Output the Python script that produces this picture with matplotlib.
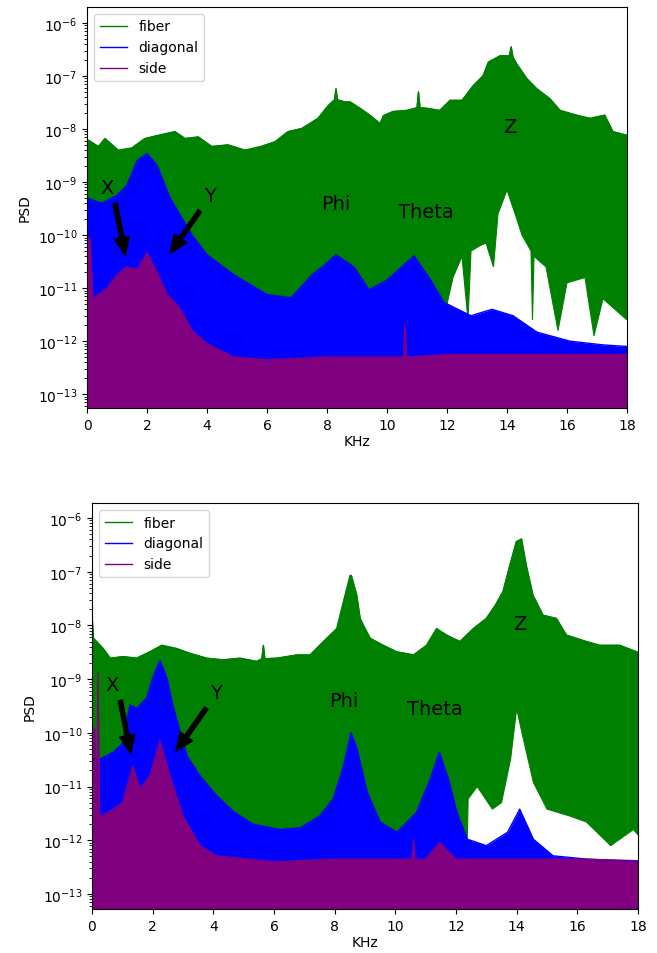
import numpy as np
import matplotlib
matplotlib.use('Agg')
import matplotlib.pyplot as plt

# envelopes of the PSD traces as log10(PSD) vs KHz
# ---- top panel ----
top_fiber_f = [0, 0.1, 0.38, 0.6, 1.04, 1.49, 1.93, 2.38, 2.93, 3.27, 3.71, 4.16, 4.7, 5.27,
               5.8, 6.27, 6.7, 7.16, 7.7, 8.04, 8.25, 8.3, 8.35, 8.6, 8.77, 9.1, 9.43, 9.77,
               9.88, 10.2, 10.66, 11.0, 11.05, 11.1, 11.32, 11.76, 12.1, 12.5, 12.88, 13.2,
               13.38, 13.77, 14.08, 14.14, 14.2, 14.32, 14.66, 14.99, 15.43, 15.77, 16.32,
               16.77, 17.26, 17.53, 18]
top_fiber_hi = [-8.2, -8.23, -8.33, -8.18, -8.4, -8.36, -8.18, -8.12, -8.05, -8.18, -8.15,
                -8.33, -8.3, -8.4, -8.33, -8.24, -8.05, -7.99, -7.8, -7.56, -7.45, -7.24,
                -7.45, -7.49, -7.49, -7.61, -7.74, -7.9, -7.75, -7.67, -7.65, -7.6, -7.3,
                -7.6, -7.61, -7.65, -7.46, -7.46, -7.18, -7.0, -6.74, -6.62, -6.62, -6.45,
                -6.65, -6.77, -7.05, -7.24, -7.43, -7.65, -7.74, -7.8, -7.74, -8.05, -8.12]
top_fiber_lo_f = [0, 11.8, 12.0, 12.2, 12.5, 12.7, 12.8, 13.1, 13.3, 13.55, 13.7, 14.0, 14.3,
                  14.5, 14.8, 14.85, 14.9, 15.3, 15.7, 16.0, 16.6, 16.9, 17.2, 17.8, 18]
top_fiber_lo = [-14, -14, -11.3, -10.8, -10.4, -11.6, -10.3, -10.2, -10.15, -10.6, -9.6,
                -9.15, -9.65, -10.0, -10.3, -11.6, -10.4, -10.6, -11.8, -10.9, -10.8, -11.9,
                -11.2, -11.5, -11.6]
top_diag_f = [0, 0.5, 1.0, 1.33, 1.67, 2.0, 2.33, 2.77, 3.5, 4.0, 4.9, 6.0, 6.8, 7.5, 7.8,
              8.3, 8.9, 9.4, 10.0, 10.9, 11.4, 11.9, 12.8, 13.5, 14.2, 15.0, 16.1, 17.2, 18]
top_diag_hi = [-9.3, -9.4, -9.25, -9.06, -8.6, -8.46, -8.68, -9.3, -10.0, -10.37, -10.75,
               -11.12, -11.18, -10.75, -10.62, -10.37, -10.6, -11.03, -10.85, -10.39, -10.8,
               -11.27, -11.52, -11.4, -11.52, -11.83, -12.0, -12.07, -12.1]
top_side_f = [0, 0.1, 0.2, 0.67, 1.0, 1.33, 1.67, 2.0, 2.33, 2.67, 3.1, 3.5, 4.0, 4.9, 6, 8,
              10, 10.55, 10.6, 10.65, 12, 14, 16, 18]
top_side_hi = [-10.05, -10.05, -11.2, -11.0, -10.75, -10.6, -10.65, -10.33, -10.7, -11.12,
               -11.38, -11.8, -12.05, -12.3, -12.35, -12.3, -12.3, -12.3, -11.7, -12.3,
               -12.25, -12.25, -12.25, -12.25]

# ---- bottom panel ----
bot_fiber_f = [0, 0.05, 0.37, 0.6, 1.03, 1.47, 1.91, 2.3, 2.79, 3.23, 3.78, 4.33, 4.88,
               5.43, 5.6, 5.65, 5.7, 6.09, 6.75, 7.19, 7.63, 8.07, 8.29, 8.51, 8.55, 8.73,
               8.84, 8.95, 9.17, 9.6, 10.04, 10.6, 11.03, 11.36, 11.69, 12.13, 12.57, 13.0,
               13.29, 13.55, 13.77, 13.99, 14.16, 14.32, 14.54, 14.87, 15.31, 15.64, 16.3,
               16.74, 17.4, 17.95, 18]
bot_fiber_hi = [-7.8, -8.24, -8.43, -8.61, -8.58, -8.61, -8.49, -8.37, -8.43, -8.52, -8.61,
                -8.64, -8.61, -8.67, -8.62, -8.37, -8.62, -8.61, -8.55, -8.55, -8.3, -8.06,
                -7.56, -7.07, -7.07, -7.44, -7.87, -8.0, -8.24, -8.37, -8.49, -8.55, -8.37,
                -8.06, -8.18, -8.3, -8.06, -7.87, -7.63, -7.37, -6.89, -6.44, -6.39, -6.89,
                -7.44, -7.81, -7.87, -8.18, -8.3, -8.37, -8.37, -8.49, -8.5]
bot_fiber_lo_f = [0, 12.3, 12.4, 12.7, 13.2, 13.5, 13.8, 14.0, 14.2, 14.55, 15.0, 15.76,
                  16.3, 17.1, 17.85, 18]
bot_fiber_lo = [-14, -14, -11.23, -11.0, -11.42, -11.3, -10.49, -9.55, -10.06, -10.92,
                -11.42, -11.55, -11.66, -12.1, -11.8, -11.9]
bot_diag_f = [0, 0.26, 0.7, 1.0, 1.25, 1.48, 1.8, 2.0, 2.24, 2.47, 2.67, 3.13, 3.56, 4.1,
              4.65, 5.3, 6.2, 6.86, 7.5, 7.95, 8.29, 8.54, 8.74, 9.07, 9.5, 10.05, 10.7,
              11.15, 11.45, 11.75, 12.03, 12.37, 13.0, 13.7, 14.1, 14.55, 15.2, 16.3,
              17.85, 18]
bot_diag_hi = [-10.5, -10.49, -10.36, -10.2, -9.48, -9.54, -9.35, -8.98, -8.65, -8.98, -9.5,
               -10.43, -10.8, -11.16, -11.46, -11.7, -11.8, -11.77, -11.55, -11.23, -10.62,
               -10.0, -10.3, -11.1, -11.66, -11.85, -11.48, -10.86, -10.36, -10.86, -11.48,
               -11.98, -12.1, -11.85, -11.42, -11.98, -12.29, -12.35, -12.39, -12.4]
bot_side_f = [0, 0.1, 0.15, 0.2, 0.25, 0.3, 0.7, 1.0, 1.35, 1.58, 1.9, 2.24, 2.57, 3.0, 3.56,
              4.1, 6, 8, 10, 10.55, 10.6, 10.65, 11.0, 11.45, 12, 14, 16, 18]
bot_side_hi = [-9.93, -9.93, -11.5, -8.89, -11.5, -11.55, -11.42, -11.3, -10.62, -11.05,
               -10.8, -10.15, -10.8, -11.55, -12.1, -12.29, -12.4, -12.35, -12.35, -12.35,
               -11.98, -12.35, -12.35, -12.04, -12.35, -12.35, -12.35, -12.38]

# annotation positions (KHz, PSD)
labels = ['X', 'Y', 'Phi', 'Theta', 'Z']
label_pos = [(0.67, 8e-10), (4.1, 5.6e-10), (8.3, 4e-10), (11.3, 2.8e-10), (14.1, 1.1e-8)]
arrow_tip = {'X': (1.3, 3.5e-11), 'Y': (2.7, 4e-11)}

floor = 1e-14


def draw_panel(ax, fib_f, fib_hi, fib_lo_f, fib_lo, diag_f, diag_hi, side_f, side_hi, ylim):
    fib_x = np.concatenate([fib_f, fib_lo_f[::-1]])
    fib_y = 10.0 ** np.concatenate([fib_hi, fib_lo[::-1]])
    ax.fill(fib_x, fib_y, color='green', lw=0.8)
    ax.plot(fib_f, 10.0 ** np.array(fib_hi), color='green', lw=1, label='fiber')
    ax.fill_between(diag_f, floor, 10.0 ** np.array(diag_hi), color='blue', lw=0)
    ax.plot(diag_f, 10.0 ** np.array(diag_hi), color='blue', lw=1, label='diagonal')
    ax.fill_between(side_f, floor, 10.0 ** np.array(side_hi), color='purple', lw=0)
    ax.plot(side_f, 10.0 ** np.array(side_hi), color='purple', lw=1, label='side')
    ax.set_yscale('log')
    ax.set_xlim(0, 18)
    ax.set_ylim(*ylim)
    ax.set_xticks(range(0, 19, 2))
    ax.set_xlabel('KHz', labelpad=2)
    ax.set_ylabel('PSD')
    ax.legend(loc='upper left')
    for lab, pos in zip(labels, label_pos):
        if lab in arrow_tip:
            ax.annotate(lab, xy=arrow_tip[lab], xytext=pos, fontsize=14,
                        ha='center', va='center',
                        arrowprops=dict(facecolor='black', edgecolor='black', width=3,
                                        headwidth=11, headlength=13, shrink=0.06))
        else:
            ax.text(pos[0], pos[1], lab, fontsize=14, ha='center', va='center')


fig = plt.figure(figsize=(6.57, 9.54), dpi=100)
ax1 = fig.add_axes([87 / 657, 1 - 409 / 954, 540 / 657, 401 / 954])
ax2 = fig.add_axes([92 / 657, 1 - 910 / 954, 546 / 657, 406 / 954])

draw_panel(ax1, top_fiber_f, top_fiber_hi, top_fiber_lo_f, top_fiber_lo,
           top_diag_f, top_diag_hi, top_side_f, top_side_hi, (10 ** -13.26, 10 ** -5.7))
draw_panel(ax2, bot_fiber_f, bot_fiber_hi, bot_fiber_lo_f, bot_fiber_lo,
           bot_diag_f, bot_diag_hi, bot_side_f, bot_side_hi, (10 ** -13.28, 10 ** -5.72))

fig.savefig('out.png', dpi=100)
